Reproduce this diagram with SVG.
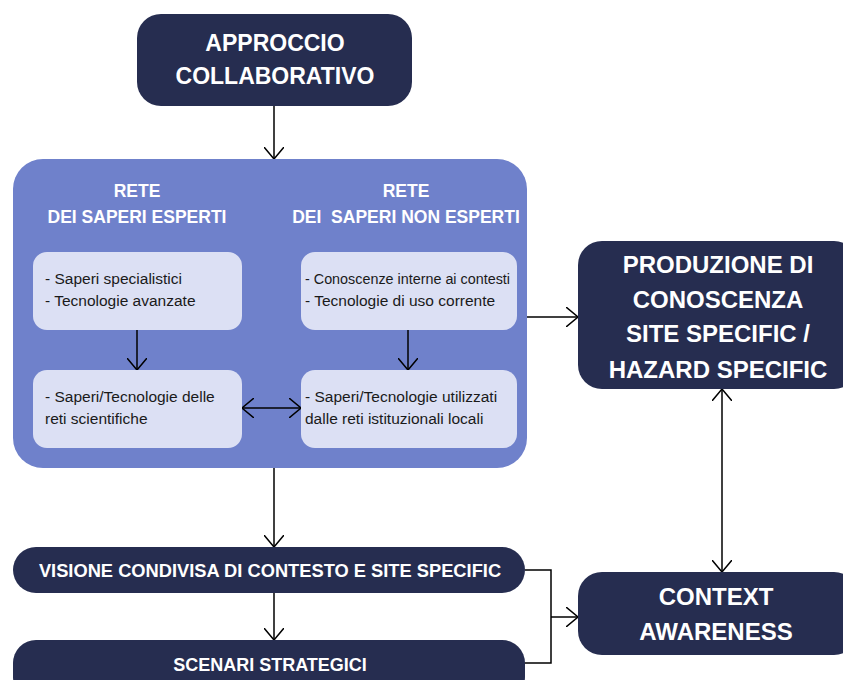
<svg xmlns="http://www.w3.org/2000/svg" width="843" height="680" viewBox="0 0 843 680">
<style>
.dark{fill:#262D50}
.big{fill:#6F81CB}
.light{fill:#DCE0F4}
.tw{font-family:"Liberation Sans",Arial,sans-serif;font-weight:bold;fill:#fff;text-anchor:middle}
.tb{font-family:"Liberation Sans",Arial,sans-serif;font-size:15.5px;fill:#1a1a1a}
.con{stroke:#000;stroke-width:1.5;fill:none}
</style>
<defs>
<marker id="ah" viewBox="0 0 12 20" refX="12" refY="10" markerWidth="12" markerHeight="20" markerUnits="userSpaceOnUse" orient="auto-start-reverse">
<path d="M0,0 L12,10 L0,20" fill="none" stroke="#000" stroke-width="1.5"/>
</marker>
</defs>
<rect width="843" height="680" fill="#fff"/>

<g id="approccio">
<rect class="dark" x="137" y="14" width="275" height="92" rx="24"/>
<text class="tw" font-size="23" x="275" y="51">APPROCCIO</text>
<text class="tw" font-size="23" x="275" y="84">COLLABORATIVO</text>
</g>

<g id="reti">
<rect class="big" x="13" y="159" width="514" height="309" rx="30"/>
<text class="tw" font-size="17.5" x="137" y="197">RETE</text>
<text class="tw" font-size="17.5" x="137" y="223">DEI SAPERI ESPERTI</text>
<text class="tw" font-size="17.5" x="406" y="197">RETE</text>
<text class="tw" font-size="17.5" x="406" y="223" xml:space="preserve">DEI  SAPERI NON ESPERTI</text>
</g>

<g id="esperti-1">
<rect class="light" x="33" y="252" width="209" height="78" rx="14"/>
<text class="tb" x="45" y="284">- Saperi specialistici</text>
<text class="tb" x="45" y="306">- Tecnologie avanzate</text>
</g>
<g id="esperti-2">
<rect class="light" x="33" y="370" width="209" height="78" rx="14"/>
<text class="tb" x="45" y="402">- Saperi/Tecnologie delle</text>
<text class="tb" x="45" y="424">reti scientifiche</text>
</g>
<g id="nonesperti-1">
<rect class="light" x="301" y="252" width="216" height="78" rx="14"/>
<text class="tb" x="305" y="284" textLength="205" lengthAdjust="spacingAndGlyphs">- Conoscenze interne ai contesti</text>
<text class="tb" x="305" y="306">- Tecnologie di uso corrente</text>
</g>
<g id="nonesperti-2">
<rect class="light" x="301" y="370" width="216" height="78" rx="14"/>
<text class="tb" x="305" y="402">- Saperi/Tecnologie utilizzati</text>
<text class="tb" x="305" y="424">dalle reti istituzionali locali</text>
</g>

<g id="produzione">
<rect class="dark" x="578" y="241" width="280" height="148" rx="24"/>
<text class="tw" font-size="24" x="718" y="273">PRODUZIONE DI</text>
<text class="tw" font-size="24" x="718" y="308">CONOSCENZA</text>
<text class="tw" font-size="24" x="718" y="342">SITE SPECIFIC /</text>
<text class="tw" font-size="24" x="718" y="378">HAZARD SPECIFIC</text>
</g>

<g id="context">
<rect class="dark" x="578" y="572" width="280" height="83" rx="24"/>
<text class="tw" font-size="24" x="716" y="605">CONTEXT</text>
<text class="tw" font-size="24" x="716" y="640">AWARENESS</text>
</g>

<g id="visione">
<rect class="dark" x="13" y="547" width="512" height="46" rx="23"/>
<text class="tw" font-size="18.3" x="270" y="577">VISIONE CONDIVISA DI CONTESTO E SITE SPECIFIC</text>
</g>

<g id="scenari">
<rect class="dark" x="13" y="640" width="512" height="60" rx="23"/>
<text class="tw" font-size="18" x="270" y="671">SCENARI STRATEGICI</text>
</g>

<g id="connectors">
<line class="con" x1="274" y1="106" x2="274" y2="159" marker-end="url(#ah)"/>
<line class="con" x1="137" y1="330" x2="137" y2="370" marker-end="url(#ah)"/>
<line class="con" x1="408" y1="330" x2="408" y2="370" marker-end="url(#ah)"/>
<line class="con" x1="242" y1="408" x2="301" y2="408" marker-start="url(#ah)" marker-end="url(#ah)"/>
<line class="con" x1="527" y1="317" x2="578" y2="317" marker-end="url(#ah)"/>
<line class="con" x1="722" y1="389" x2="722" y2="572" marker-start="url(#ah)" marker-end="url(#ah)"/>
<line class="con" x1="274" y1="468" x2="274" y2="547" marker-end="url(#ah)"/>
<line class="con" x1="274" y1="593" x2="274" y2="640" marker-end="url(#ah)"/>
<polyline class="con" points="525,570 551,570 551,663 525,663"/>
<line class="con" x1="551" y1="617" x2="578" y2="617" marker-end="url(#ah)"/>
</g>
</svg>
